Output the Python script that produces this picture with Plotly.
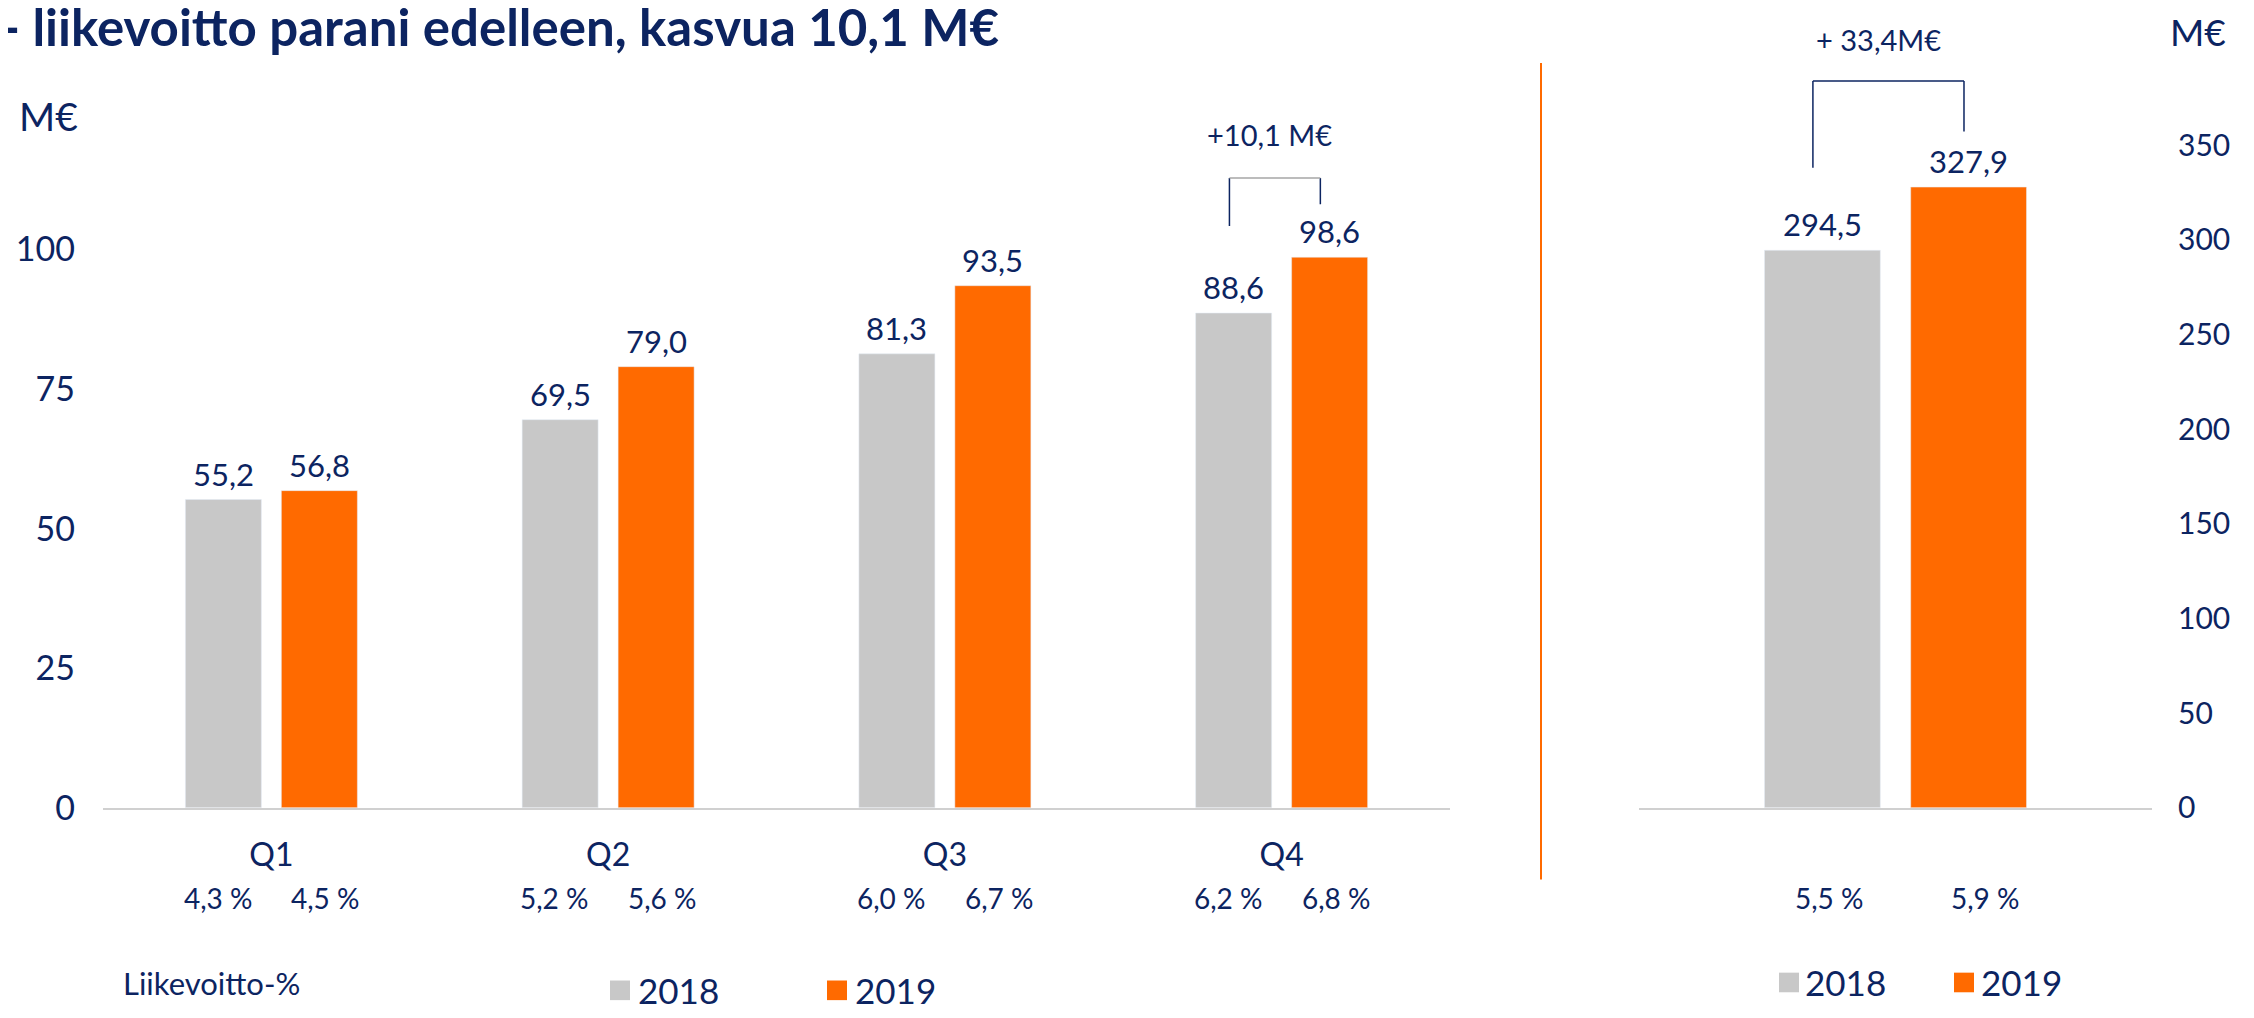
import plotly.graph_objects as go

W, H = 2254, 1018

# ---------------- data ----------------
quarters = ["Q1", "Q2", "Q3", "Q4"]
ebit_2018 = [55.2, 69.5, 81.3, 88.6]
ebit_2019 = [56.8, 79.0, 93.5, 98.6]
margin_2018 = [4.3, 5.2, 6.0, 6.2]
margin_2019 = [4.5, 5.6, 6.7, 6.8]

total_cat = ["Yhteensä"]
total_2018 = [294.5]
total_2019 = [327.9]
total_margin_2018 = [5.5]
total_margin_2019 = [5.9]

left_ticks = [0, 25, 50, 75, 100]
right_ticks = [0, 50, 100, 150, 200, 250, 300, 350]
years = ["2018", "2019"]

title_text = "- liikevoitto parani edelleen, kasvua 10,1 M€"
q4_delta_text = "+10,1 M€"
total_delta_text = "+ 33,4M€"
unit_text = "M€"
margin_title = "Liikevoitto-%"

# ---------------- style ----------------
NAVY = "#0C2461"
ORANGE = "#FF6A00"
GRAY = "#C8C8C8"
AXIS = "#D0D0D0"
FONT = "Lato, 'Open Sans', sans-serif"

BASE_PX = 815
LEFT_PPU = 5.69
RIGHT_PPU = 1.929
BAR_OFF = 0.1425


def fi(v, dec=1):
    return f"{v:.{dec}f}".replace(".", ",")


def px_x(p):
    return p / W


def px_y(p):
    return 1 - p / H


fig = go.Figure()

fig.add_trace(go.Bar(x=quarters, y=ebit_2018, name=years[0], marker_color=GRAY,
                     xaxis="x", yaxis="y"))
fig.add_trace(go.Bar(x=quarters, y=ebit_2019, name=years[1], marker_color=ORANGE,
                     xaxis="x", yaxis="y"))
fig.add_trace(go.Bar(x=total_cat, y=total_2018, name=years[0], marker_color=GRAY,
                     xaxis="x2", yaxis="y2"))
fig.add_trace(go.Bar(x=total_cat, y=total_2019, name=years[1], marker_color=ORANGE,
                     xaxis="x2", yaxis="y2"))

ydom = [(H - BASE_PX) / H, 1.0]

fig.update_layout(
    width=W, height=H,
    margin=dict(l=0, r=0, t=0, b=0),
    paper_bgcolor="white", plot_bgcolor="white",
    showlegend=False,
    barmode="group", bargap=0.43, bargroupgap=0.208,
    font=dict(family=FONT, color=NAVY),
    xaxis=dict(domain=[95 / W, 1442 / W], type="category", range=[-0.5, 3.5],
               showline=True, linecolor=AXIS, linewidth=2, ticks="",
               showgrid=False, zeroline=False, anchor="y",
               tickfont=dict(family=FONT, size=32, color=NAVY), ticklabelstandoff=18),
    yaxis=dict(domain=ydom, range=[0, BASE_PX / LEFT_PPU], tickmode="array",
               tickvals=left_ticks, showgrid=False, zeroline=False,
               showline=False, ticks="", anchor="x",
               tickfont=dict(family=FONT, size=34, color=NAVY), ticklabelstandoff=27),
    xaxis2=dict(domain=[1631 / W, 2144 / W], type="category", range=[-0.5, 0.5],
                showline=True, linecolor=AXIS, linewidth=2, ticks="",
                showticklabels=False, showgrid=False, zeroline=False, anchor="y2"),
    yaxis2=dict(domain=ydom, range=[0, BASE_PX / RIGHT_PPU], tickmode="array",
                tickvals=right_ticks, side="right", showgrid=False,
                zeroline=False, showline=False, ticks="", anchor="x2",
                tickfont=dict(family=FONT, size=30, color=NAVY), ticklabelstandoff=25),
)

shapes = []
annotations = []

# value labels above bars
val_font = dict(family=FONT, size=31, color=NAVY)
for i in range(len(quarters)):
    for off, vals in ((-BAR_OFF, ebit_2018), (BAR_OFF, ebit_2019)):
        annotations.append(dict(x=i + off, y=vals[i], xref="x", yref="y",
                                text=fi(vals[i]), showarrow=False, yanchor="bottom",
                                yshift=5, font=val_font))
for off, vals in ((-BAR_OFF, total_2018), (BAR_OFF, total_2019)):
    annotations.append(dict(x=off, y=vals[0], xref="x2", yref="y2",
                            text=fi(vals[0]), showarrow=False, yanchor="bottom",
                            yshift=5, font=val_font))

# divider line
shapes.append(dict(type="line", xref="paper", yref="paper",
                   x0=px_x(1533), x1=px_x(1533), y0=px_y(56), y1=px_y(888),
                   line=dict(color=ORANGE, width=2)))

# Q4 bracket
qi = 3
lx, rx = qi - 0.155, qi + 0.115
top = ebit_2019[qi] + 14.2
shapes += [
    dict(type="line", xref="x", yref="y", x0=lx, x1=lx, y0=ebit_2018[qi] + 15.6, y1=top,
         line=dict(color=NAVY, width=1.5)),
    dict(type="line", xref="x", yref="y", x0=rx, x1=rx, y0=ebit_2019[qi] + 9.5, y1=top,
         line=dict(color=NAVY, width=1.5)),
    dict(type="line", xref="x", yref="y", x0=lx, x1=rx, y0=top, y1=top,
         line=dict(color="#A6A6A6", width=1.5)),
]
annotations.append(dict(x=qi - 0.035, y=ebit_2019[qi] + 22.0, xref="x", yref="y",
                        text=q4_delta_text, showarrow=False,
                        font=dict(family=FONT, size=29, color=NAVY)))

# total bracket
lx2, rx2 = -0.161, 0.1335
top2 = total_2019[0] + 56.0
shapes += [
    dict(type="line", xref="x2", yref="y2", x0=lx2, x1=lx2, y0=total_2018[0] + 43.6, y1=top2,
         line=dict(color=NAVY, width=1.5)),
    dict(type="line", xref="x2", yref="y2", x0=rx2, x1=rx2, y0=total_2019[0] + 29.4, y1=top2,
         line=dict(color=NAVY, width=1.5)),
    dict(type="line", xref="x2", yref="y2", x0=lx2, x1=rx2, y0=top2, y1=top2,
         line=dict(color=NAVY, width=1.5)),
]
annotations.append(dict(x=-0.034, y=total_2019[0] + 78.0, xref="x2", yref="y2",
                        text=total_delta_text, showarrow=False,
                        font=dict(family=FONT, size=29, color=NAVY)))

# margin % labels
pct_font = dict(family=FONT, size=28, color=NAVY)
PCT_Y = 907
for i in range(len(quarters)):
    annotations.append(dict(x=i - 0.16, y=px_y(PCT_Y), xref="x", yref="paper",
                            text=fi(margin_2018[i]) + " %", showarrow=False,
                            yanchor="middle", font=pct_font))
    annotations.append(dict(x=i + 0.16, y=px_y(PCT_Y), xref="x", yref="paper",
                            text=fi(margin_2019[i]) + " %", showarrow=False,
                            yanchor="middle", font=pct_font))
annotations.append(dict(x=-0.13, y=px_y(PCT_Y), xref="x2", yref="paper",
                        text=fi(total_margin_2018[0]) + " %", showarrow=False,
                        yanchor="middle", font=pct_font))
annotations.append(dict(x=0.175, y=px_y(PCT_Y), xref="x2", yref="paper",
                        text=fi(total_margin_2019[0]) + " %", showarrow=False,
                        yanchor="middle", font=pct_font))

# unit labels
annotations.append(dict(x=px_x(9), y=px_y(110), xref="paper", yref="paper",
                        xanchor="left", yanchor="middle", text=unit_text, showarrow=False,
                        font=dict(family=FONT, size=39, color=NAVY)))
annotations.append(dict(x=px_x(2160), y=px_y(24), xref="paper", yref="paper",
                        xanchor="left", yanchor="middle", text=unit_text, showarrow=False,
                        font=dict(family=FONT, size=37, color=NAVY)))

# margin title
annotations.append(dict(x=px_x(113), y=px_y(994), xref="paper", yref="paper",
                        xanchor="left", yanchor="middle", text=margin_title, showarrow=False,
                        font=dict(family=FONT, size=31, color=NAVY)))

# title
annotations.append(dict(x=px_x(-9), y=px_y(19), xref="paper", yref="paper",
                        xanchor="left", yanchor="middle", text="<b>" + title_text + "</b>",
                        showarrow=False, font=dict(family=FONT, size=51, color=NAVY)))

# legends (swatches + labels)
leg_font = dict(family=FONT, size=35, color=NAVY)
legend_items = [
    (602, 1001, 628, GRAY, years[0]),
    (819, 1001, 845, ORANGE, years[1]),
    (1771, 993, 1795, GRAY, years[0]),
    (1946, 993, 1971, ORANGE, years[1]),
]
for sx, cy, tx, col, lab in legend_items:
    shapes.append(dict(type="rect", xref="paper", yref="paper",
                       x0=px_x(sx), x1=px_x(sx + 20), y0=px_y(cy - 10), y1=px_y(cy + 10),
                       fillcolor=col, line=dict(width=0)))
    annotations.append(dict(x=px_x(tx), y=px_y(cy), xref="paper", yref="paper",
                            xanchor="left", yanchor="middle", text=lab, showarrow=False,
                            font=leg_font))

fig.update_layout(shapes=shapes, annotations=annotations)

fig.write_html("out.html")
